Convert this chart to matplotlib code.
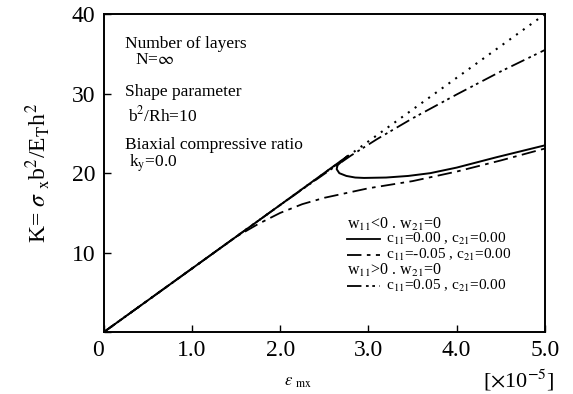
import matplotlib
matplotlib.use("Agg")
import matplotlib.pyplot as plt

plt.rcParams["font.family"] = ["Liberation Serif", "DejaVu Serif"]
plt.rcParams["mathtext.fontset"] = "stix"

# linear (dotted) reference line
lin_x = [0.0, 5.0]
lin_k = [0.0, 40.0]

# w11<0, c11=0.00 : linear up to snap-through, then loop back
solid_x = [0.0, 1.0, 2.0, 2.77, 2.70, 2.65, 2.64, 2.67, 2.75, 2.85, 2.95,
           3.2, 3.45, 3.7, 4.0, 4.45, 5.0]
solid_k = [0.0, 8.0, 16.0, 22.2, 21.5, 21.0, 20.5, 20.0, 19.65, 19.45, 19.4,
           19.45, 19.65, 20.0, 20.7, 22.0, 23.5]

# w11<0, c11=-0.05
dd_x = [0.0, 1.0, 1.3, 1.5, 1.75, 2.0, 2.25, 2.5, 3.0, 3.5, 4.0, 4.5, 5.0]
dd_k = [0.0, 8.0, 10.4, 12.0, 13.6, 15.0, 16.1, 16.9, 18.1, 19.0, 20.2, 21.6, 23.1]

# w11>0, c11=0.05
ddd_x = [0.0, 1.0, 2.0, 2.5, 2.8, 3.1, 3.5, 4.0, 4.5, 5.0]
ddd_k = [0.0, 8.0, 16.0, 19.9, 22.2, 24.3, 26.9, 29.9, 32.8, 35.5]

x_ticks = [0, 1, 2, 3, 4, 5]
x_tick_labels = ["0", "1.0", "2.0", "3.0", "4.0", "5.0"]
y_ticks = [0, 10, 20, 30, 40]
y_tick_labels = ["", "10", "20", "30", "40"]

dash_dot = (0, (8, 3, 2, 3))
dash_dot_dot = (0, (8, 2.5, 1.5, 2, 1.5, 2.5))

fig = plt.figure(figsize=(5.73, 3.94), dpi=100)
ax = fig.add_axes([0.181, 0.157, 0.770, 0.807])

ax.plot(lin_x, lin_k, color="black", lw=1.5, linestyle=(0, (1, 3)))
ax.plot(solid_x, solid_k, color="black", lw=1.4)
ax.plot(dd_x, dd_k, color="black", lw=1.3, linestyle=dash_dot)
ax.plot(ddd_x, ddd_k, color="black", lw=1.3, linestyle=dash_dot_dot)

ax.set_xlim(0, 5)
ax.set_ylim(0, 40)
ax.set_xticks(x_ticks)
ax.set_xticklabels(x_tick_labels)
ax.set_yticks(y_ticks)
ax.set_yticklabels(y_tick_labels)
ax.tick_params(direction="in", length=5, width=1, labelsize=17, pad=6)
ax.get_xticklabels()[0].set_ha("right")
for s in ax.spines.values():
    s.set_linewidth(1.4)

ax.set_ylabel(r"K= $\sigma$ $_{\rm x}$b$^2$/E$_{\rm T}$h$^2$", fontsize=17, labelpad=14)
fig.text(0.52, 0.03, r"$\varepsilon$ $_{\rm mx}$", fontsize=12, ha="center", va="center")
fig.text(0.905, 0.035, r"[$\times$10$^{-5}$]", fontsize=16, ha="center", va="center")

# parameter annotations
info = [
    (0.049, 0.906, "Number of layers"),
    (0.071, 0.855, r"N=$\infty$"),
    (0.049, 0.755, "Shape parameter"),
    (0.055, 0.682, r"b$^2$/Rh=10"),
    (0.049, 0.588, "Biaxial compressive ratio"),
    (0.058, 0.531, r"k$_{\rm y}$=0.0"),
]
for tx, ty, s in info:
    ax.text(tx, ty, s, transform=ax.transAxes, fontsize=12.5, va="center", ha="left")

# legend (drawn by hand to match the original layout)
ax.text(0.552, 0.340, r"w$_{11}$<0 . w$_{21}$=0", transform=ax.transAxes,
        fontsize=11.5, va="center")
ax.text(0.552, 0.194, r"w$_{11}$>0 . w$_{21}$=0", transform=ax.transAxes,
        fontsize=11.5, va="center")
entries = [
    (0.292, "-", r"c$_{11}$=0.00 , c$_{21}$=0.00"),
    (0.243, dash_dot, r"c$_{11}$=-0.05 , c$_{21}$=0.00"),
    (0.146, dash_dot_dot, r"c$_{11}$=0.05 , c$_{21}$=0.00"),
]
for ly, ls, lab in entries:
    ax.plot([0.552, 0.626], [ly, ly], transform=ax.transAxes, color="black",
            lw=1.3, linestyle=ls)
    ax.text(0.64, ly, lab, transform=ax.transAxes, fontsize=11, va="center")

fig.savefig("out.png", dpi=100)
